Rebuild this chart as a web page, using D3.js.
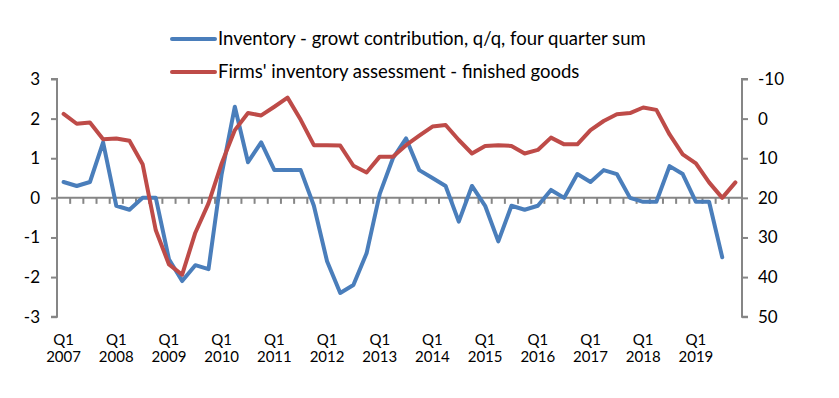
<!DOCTYPE html>
<html>
<head>
<meta charset="utf-8">
<script src="https://cdn.jsdelivr.net/npm/d3@7/dist/d3.min.js"></script>
<style>
  html, body { margin: 0; padding: 0; background: #ffffff; }
  svg { display: block; }
  text { font-family: Lato, "Open Sans", sans-serif; fill: #000; }
</style>
</head>
<body>
<div id="chart"></div>
<script>
// ---- data ----
const years = ["2007","2008","2009","2010","2011","2012","2013","2014","2015","2016","2017","2018","2019"];
const quarters = ["Q1","Q2","Q3","Q4"];
const categories = [];
years.forEach(y => quarters.forEach(q => categories.push(q + " " + y)));

// Inventory - growth contribution, q/q, four quarter sum (left axis)
const inventory = [
  0.4, 0.3, 0.4, 1.4,
  -0.2, -0.3, 0.0, 0.0,
  -1.55, -2.1, -1.7, -1.8,
  0.6, 2.3, 0.9, 1.4,
  0.7, 0.7, 0.7, -0.2,
  -1.6, -2.4, -2.2, -1.4,
  0.1, 1.0, 1.5, 0.7,
  0.5, 0.3, -0.6, 0.3,
  -0.2, -1.1, -0.2, -0.3,
  -0.2, 0.2, 0.0, 0.6,
  0.4, 0.7, 0.6, 0.0,
  -0.1, -0.1, 0.8, 0.6,
  -0.1, -0.1, -1.5, null
];

// Firms' inventory assessment - finished goods (right axis, inverted)
const assessment = [
  -1.2, 1.3, 1.0, 5.2,
  5.0, 5.6, 11.5, 28.2,
  36.8, 39.4, 28.8, 21.4,
  11.3, 2.9, -1.4, -0.8,
  -3.0, -5.3, 0.3, 6.7,
  6.7, 6.8, 11.9, 13.6,
  9.6, 9.6, 6.7, 4.3,
  2.0, 1.6, 5.4, 8.8,
  6.9, 6.7, 6.9, 8.8,
  7.9, 4.8, 6.5, 6.5,
  2.9, 0.6, -1.1, -1.4,
  -2.8, -2.2, 4.0, 9.0,
  11.3, 16.1, 20.0, 16.1
];

const leftTicks = [-3, -2, -1, 0, 1, 2, 3];
const rightTicks = [-10, 0, 10, 20, 30, 40, 50];
const seriesNames = [
  "Inventory - growt contribution, q/q, four quarter sum",
  "Firms' inventory assessment - finished goods"
];
const colors = ["#4A7EBB", "#BE4B48"];

// ---- layout ----
const W = 839, H = 398;
const plotLeft = 57, plotRight = 742, plotTop = 79, plotBottom = 316.7;
const axisColor = "#868686";

const svg = d3.select("#chart").append("svg").attr("width", W).attr("height", H);

const x = d3.scaleBand().domain(categories).range([plotLeft, plotRight]).padding(0);
const yL = d3.scaleLinear().domain([-3, 3]).range([plotBottom, plotTop]);
const yR = d3.scaleLinear().domain([-10, 50]).range([plotTop, plotBottom]);
const cx = c => x(c) + x.bandwidth() / 2;

// left axis
const leftAxis = d3.axisLeft(yL).tickValues(leftTicks).tickSize(6).tickPadding(11).tickFormat(d => String(d));
const gL = svg.append("g").attr("transform", `translate(${plotLeft},0)`).call(leftAxis);
gL.select(".domain").attr("stroke", axisColor).attr("stroke-width", 2).attr("d", `M-6,${plotTop}H0V${plotBottom}H-6`);
gL.selectAll(".tick line").attr("stroke", axisColor).attr("stroke-width", 2);
gL.selectAll(".tick text").attr("font-size", 17).attr("font-family", "Lato, sans-serif");

// right axis
const rightAxis = d3.axisRight(yR).tickValues(rightTicks).tickSize(6).tickPadding(10).tickFormat(d => String(d));
const gR = svg.append("g").attr("transform", `translate(${plotRight},0)`).call(rightAxis);
gR.select(".domain").attr("stroke", axisColor).attr("stroke-width", 2).attr("d", `M6,${plotTop}H0V${plotBottom}H6`);
gR.selectAll(".tick line").attr("stroke", axisColor).attr("stroke-width", 2);
gR.selectAll(".tick text").attr("font-size", 17).attr("font-family", "Lato, sans-serif");

// category axis at zero (ticks between categories, labels at bottom)
const y0 = yL(0);
svg.append("line").attr("x1", plotLeft).attr("x2", plotRight).attr("y1", y0).attr("y2", y0)
  .attr("stroke", axisColor).attr("stroke-width", 2);
const boundaries = categories.slice(1).map(c => x(c));
svg.append("g").selectAll("line").data(boundaries).join("line")
  .attr("x1", d => d).attr("x2", d => d).attr("y1", y0).attr("y2", y0 + 6)
  .attr("stroke", axisColor).attr("stroke-width", 2);

const labelCats = categories.filter(c => c.startsWith("Q1"));
const labG = svg.append("g").attr("font-size", 15).attr("text-anchor", "middle");
labG.selectAll("text.q").data(labelCats).join("text").attr("class", "q")
  .attr("x", d => cx(d)).attr("y", 345).text(d => d.split(" ")[0]);
labG.selectAll("text.yr").data(labelCats).join("text").attr("class", "yr")
  .attr("x", d => cx(d)).attr("y", 362).text(d => d.split(" ")[1]);

// lines
const lineL = d3.line().defined(d => d.v != null).x(d => cx(d.c)).y(d => yL(d.v));
const lineR = d3.line().defined(d => d.v != null).x(d => cx(d.c)).y(d => yR(d.v));
svg.append("path").datum(categories.map((c, i) => ({c, v: inventory[i]})))
  .attr("d", lineL).attr("fill", "none").attr("stroke", colors[0]).attr("stroke-width", 4)
  .attr("stroke-linejoin", "round").attr("stroke-linecap", "round");
svg.append("path").datum(categories.map((c, i) => ({c, v: assessment[i]})))
  .attr("d", lineR).attr("fill", "none").attr("stroke", colors[1]).attr("stroke-width", 4)
  .attr("stroke-linejoin", "round").attr("stroke-linecap", "round");

// legend
const legY = [39, 72];
seriesNames.forEach((name, i) => {
  svg.append("line").attr("x1", 172).attr("x2", 215).attr("y1", legY[i]).attr("y2", legY[i])
    .attr("stroke", colors[i]).attr("stroke-width", 4).attr("stroke-linecap", "round");
  svg.append("text").attr("x", 218).attr("y", legY[i]).attr("dy", "0.35em")
    .attr("font-size", 18.5).text(name);
});
</script>
</body>
</html>
